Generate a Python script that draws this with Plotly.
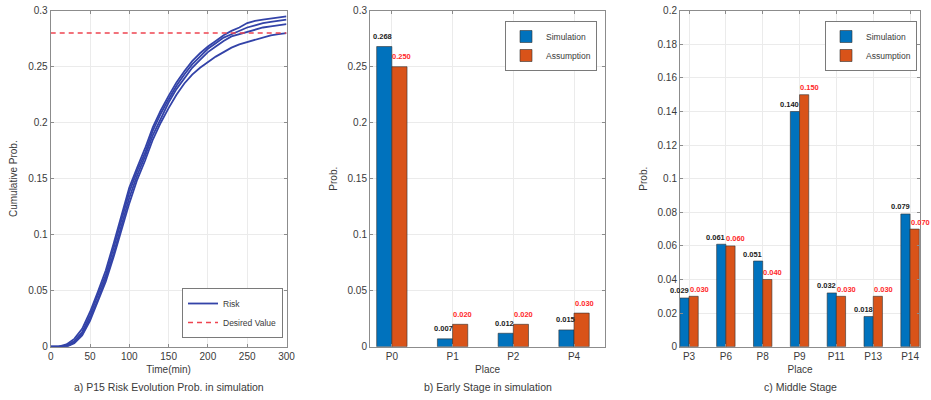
import plotly.graph_objects as go

# ---------------- data ----------------
time_min = [0, 10, 20, 30, 40, 50, 60, 70, 80, 90, 100, 110, 120, 130, 140, 150,
            160, 170, 180, 190, 200, 210, 220, 230, 240, 250, 260, 270, 280, 290, 300]
risk_run1 = [0, 0, 0.002, 0.007, 0.016, 0.031, 0.049, 0.068, 0.092, 0.118, 0.142, 0.160, 0.177, 0.196, 0.211,
             0.224, 0.236, 0.246, 0.255, 0.262, 0.268, 0.273, 0.278, 0.282, 0.285, 0.289, 0.291, 0.292, 0.293, 0.294, 0.295]
risk_run2 = [0, 0, 0.001, 0.005, 0.013, 0.028, 0.046, 0.064, 0.088, 0.113, 0.138, 0.157, 0.173, 0.193, 0.208,
             0.221, 0.233, 0.243, 0.252, 0.259, 0.266, 0.271, 0.276, 0.279, 0.282, 0.285, 0.287, 0.289, 0.290, 0.291, 0.292]
risk_run3 = [0, 0, 0.000, 0.004, 0.011, 0.025, 0.042, 0.061, 0.083, 0.108, 0.133, 0.153, 0.170, 0.189, 0.204,
             0.218, 0.230, 0.240, 0.249, 0.256, 0.263, 0.268, 0.273, 0.277, 0.279, 0.281, 0.283, 0.285, 0.286, 0.287, 0.288]
risk_run4 = [0, 0, 0.000, 0.003, 0.010, 0.023, 0.040, 0.058, 0.080, 0.104, 0.128, 0.149, 0.166, 0.185, 0.200,
             0.213, 0.225, 0.235, 0.243, 0.249, 0.254, 0.259, 0.263, 0.267, 0.270, 0.272, 0.274, 0.276, 0.278, 0.279, 0.280]
desired_time = [0, 300]
desired_value = [0.28, 0.28]

early_places = ["P0", "P1", "P2", "P4"]
early_sim = [0.268, 0.007, 0.012, 0.015]
early_assume = [0.250, 0.020, 0.020, 0.030]

middle_places = ["P3", "P6", "P8", "P9", "P11", "P13", "P14"]
middle_sim = [0.029, 0.061, 0.051, 0.140, 0.032, 0.018, 0.079]
middle_assume = [0.030, 0.060, 0.040, 0.150, 0.030, 0.030, 0.070]

# ---------------- style ----------------
W, H = 931, 400
FONT = "Liberation Sans"
TXT = "#3a3a3a"
GRID = "#ebebeb"
FRAME = "#8c8c8c"
BLUE = "#0072BD"
ORANGE = "#D95319"
CURVE = "#3343A8"
RED = "#EE4450"
SIM_LBL = "#222222"
ASM_LBL = "#ff2a2a"


def px(x):
    return x / W


def py(y):
    return 1 - y / H


y_dom = [py(346.7), py(10.7)]

fig = go.Figure()

# panel a
runs = [risk_run1, risk_run2, risk_run3, risk_run4]
for i, r in enumerate(runs):
    fig.add_trace(go.Scatter(x=time_min, y=r, mode="lines", name="Risk",
                             line=dict(color=CURVE, width=1.8),
                             showlegend=(i == 0), legend="legend",
                             xaxis="x", yaxis="y"))
fig.add_trace(go.Scatter(x=desired_time, y=desired_value, mode="lines", name="Desired Value",
                         line=dict(color=RED, width=1.5, dash="5px,4px"),
                         legend="legend", xaxis="x", yaxis="y"))

bar_line = dict(color="#333", width=0.6)
# panel b
fig.add_trace(go.Bar(x=early_places, y=early_sim, name="Simulation",
                     marker=dict(color=BLUE, line=bar_line),
                     legend="legend2", xaxis="x2", yaxis="y2"))
fig.add_trace(go.Bar(x=early_places, y=early_assume, name="Assumption",
                     marker=dict(color=ORANGE, line=bar_line),
                     legend="legend2", xaxis="x2", yaxis="y2"))
# panel c
fig.add_trace(go.Bar(x=middle_places, y=middle_sim, name="Simulation",
                     marker=dict(color=BLUE, line=bar_line),
                     legend="legend3", xaxis="x3", yaxis="y3"))
fig.add_trace(go.Bar(x=middle_places, y=middle_assume, name="Assumption",
                     marker=dict(color=ORANGE, line=bar_line),
                     legend="legend3", xaxis="x3", yaxis="y3"))


# value labels above bars (drawn on top of all bars)
def add_labels(places, sims, asms, xa, ya, dx_sim, dx_asm, dy):
    for p, s, a in zip(places, sims, asms):
        fig.add_annotation(x=p, y=s, xref=xa, yref=ya, text=f"{s:.3f}", showarrow=False,
                           xanchor="center", yanchor="middle", xshift=dx_sim, yshift=dy,
                           font=dict(family=FONT, size=7.5, color=SIM_LBL, weight="bold"))
        fig.add_annotation(x=p, y=a, xref=xa, yref=ya, text=f"{a:.3f}", showarrow=False,
                           xanchor="center", yanchor="middle", xshift=dx_asm, yshift=dy,
                           font=dict(family=FONT, size=7.5, color=ASM_LBL, weight="bold"))


add_labels(early_places, early_sim, early_assume, "x2", "y2", -9, 10, 10)
add_labels(middle_places, middle_sim, middle_assume, "x3", "y3", -10, 10, 7)

axis_common = dict(showline=True, linecolor=FRAME, linewidth=1, mirror="ticks",
                   ticks="inside", ticklen=3, tickcolor=FRAME, automargin=False,
                   showgrid=True, gridcolor=GRID, gridwidth=1, zeroline=False,
                   tickfont=dict(family=FONT, size=10, color=TXT))
title_font = dict(family=FONT, size=10, color=TXT)
legend_common = dict(bgcolor="white", bordercolor="#7a7a7a", borderwidth=1,
                     font=dict(family=FONT, size=8.5, color=TXT),
                     itemwidth=30, tracegroupgap=0)

fig.update_layout(
    width=W, height=H,
    margin=dict(l=0, r=0, t=0, b=0),
    paper_bgcolor="white", plot_bgcolor="white",
    font=dict(family=FONT, size=10, color=TXT),
    barmode="group", bargap=0.5, bargroupgap=0,
    xaxis=dict(domain=[px(50.7), px(286.5)], range=[0, 300], dtick=50,
               title=dict(text="Time(min)", font=title_font, standoff=5),
               anchor="y", **axis_common),
    yaxis=dict(domain=y_dom, range=[0, 0.3], dtick=0.05,
               title=dict(text="Cumulative Prob.", font=title_font, standoff=8),
               anchor="x", **axis_common),
    xaxis2=dict(domain=[px(370), px(605)], range=[-0.36, 3.51],
                title=dict(text="Place", font=title_font, standoff=5),
                anchor="y2", **axis_common),
    yaxis2=dict(domain=y_dom, range=[0, 0.3], dtick=0.05,
                title=dict(text="Prob.", font=title_font, standoff=8),
                anchor="x2", **axis_common),
    xaxis3=dict(domain=[px(680), px(920)], range=[-0.245, 6.27],
                title=dict(text="Place", font=title_font, standoff=5),
                anchor="y3", **axis_common),
    yaxis3=dict(domain=y_dom, range=[0, 0.2], dtick=0.02,
                title=dict(text="Prob.", font=title_font, standoff=8),
                anchor="x3", **axis_common),
    legend=dict(x=px(283), y=py(338), xanchor="right", yanchor="bottom", **legend_common),
    legend2=dict(x=px(597), y=py(21), xanchor="right", yanchor="top", **legend_common),
    legend3=dict(x=px(917), y=py(21), xanchor="right", yanchor="top", **legend_common),
)

subtitles = [("a) P15 Risk Evolution Prob. in simulation", (50.7 + 286.5) / 2),
             ("b) Early Stage in simulation", (370 + 605) / 2),
             ("c) Middle Stage", (680 + 920) / 2)]
for text, cx in subtitles:
    fig.add_annotation(text=text, x=px(cx), y=py(387), xref="paper", yref="paper",
                       xanchor="center", yanchor="middle", showarrow=False,
                       font=dict(family=FONT, size=10.5, color=TXT))

fig.write_html("out.html", config={"displayModeBar": False},
               post_script="document.body.style.margin='0';document.body.style.overflow='hidden';")
